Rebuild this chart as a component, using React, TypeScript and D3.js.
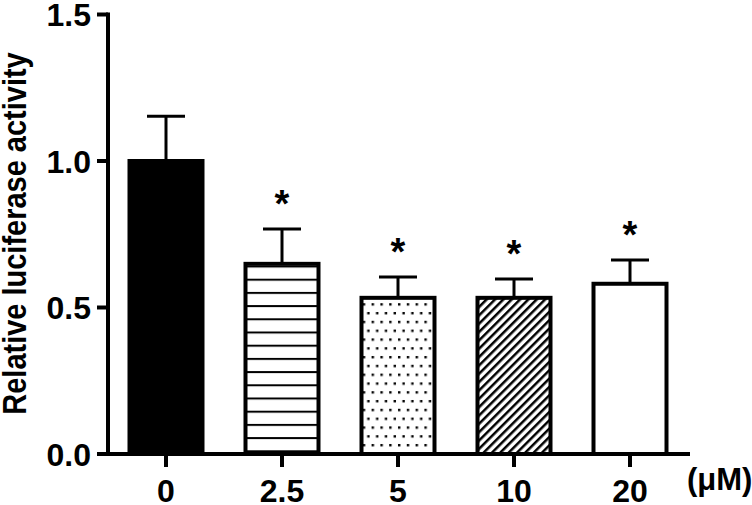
import * as d3 from "d3";
import { useEffect, useRef } from "react";

const categories = ["0", "2.5", "5", "10", "20"];
const means = [1.0, 0.649, 0.533, 0.533, 0.581];
const sds = [0.153, 0.119, 0.071, 0.064, 0.081];
const significant = [false, true, true, true, true];
const yTicks = [0, 0.5, 1.0, 1.5];
const yTickLabels = ["0.0", "0.5", "1.0", "1.5"];
const fills = ["#000", "url(#hlines)", "url(#dots)", "url(#diag)", "#fff"];

const FONT = "'Liberation Sans', Arial, Helvetica, sans-serif";

export default function App() {
  const ref = useRef<SVGSVGElement>(null);

  useEffect(() => {
    const width = 752;
    const height = 505;
    const svg = d3.select(ref.current);
    svg.selectAll("*").remove();
    svg.attr("width", width).attr("height", height);

    const x = d3.scaleBand().domain(categories).range([108, 688]).padding(0);
    const y = d3.scaleLinear().domain([0, 1.5]).range([454, 14.5]);
    const barW = 73;
    const capW = 38;

    // patterns
    const defs = svg.append("defs");
    const hl = defs.append("pattern").attr("id", "hlines").attr("patternUnits", "userSpaceOnUse")
      .attr("width", 10).attr("height", 13.2).attr("y", 1.5);
    hl.append("rect").attr("width", 10).attr("height", 13.2).attr("fill", "#fff");
    hl.append("rect").attr("y", 0).attr("width", 10).attr("height", 2).attr("fill", "#000");

    const dt = defs.append("pattern").attr("id", "dots").attr("patternUnits", "userSpaceOnUse")
      .attr("width", 8.8).attr("height", 17.6).attr("x", 1).attr("y", 3);
    dt.append("rect").attr("width", 8.8).attr("height", 17.6).attr("fill", "#fff");
    dt.append("rect").attr("x", 1).attr("y", 1).attr("width", 2.4).attr("height", 2.4).attr("fill", "#000");
    dt.append("rect").attr("x", 5.4).attr("y", 9.8).attr("width", 2.4).attr("height", 2.4).attr("fill", "#000");

    const dg = defs.append("pattern").attr("id", "diag").attr("patternUnits", "userSpaceOnUse")
      .attr("width", 5.9).attr("height", 10).attr("patternTransform", "rotate(45)");
    dg.append("rect").attr("width", 5.9).attr("height", 10).attr("fill", "#fff");
    dg.append("rect").attr("x", 0).attr("width", 2.5).attr("height", 10).attr("fill", "#000");

    const g = svg.append("g");

    // bars with error bars
    categories.forEach((c, i) => {
      const cx = x(c)! + x.bandwidth() / 2;
      const top = y(means[i]);
      const errTop = y(means[i] + sds[i]);
      g.append("line").attr("x1", cx).attr("x2", cx).attr("y1", top).attr("y2", errTop)
        .attr("stroke", "#000").attr("stroke-width", 3);
      g.append("line").attr("x1", cx - capW / 2).attr("x2", cx + capW / 2).attr("y1", errTop).attr("y2", errTop)
        .attr("stroke", "#000").attr("stroke-width", 3);
      g.append("rect").attr("x", cx - barW / 2).attr("y", top).attr("width", barW).attr("height", y(0) - top)
        .attr("fill", fills[i]).attr("stroke", "#000").attr("stroke-width", 4);
      if (significant[i]) {
        g.append("text").attr("x", cx).attr("y", errTop - 12).attr("text-anchor", "middle")
          .attr("font-family", FONT).attr("font-weight", "bold").attr("font-size", 38).text("*");
      }
    });

    // y axis
    g.append("line").attr("x1", 108).attr("x2", 108).attr("y1", y(1.5) - 2).attr("y2", y(0) + 2)
      .attr("stroke", "#000").attr("stroke-width", 4);
    yTicks.forEach((t, i) => {
      g.append("line").attr("x1", 97).attr("x2", 108).attr("y1", y(t)).attr("y2", y(t))
        .attr("stroke", "#000").attr("stroke-width", 4);
      g.append("text").attr("x", 91).attr("y", y(t) + 11.5).attr("text-anchor", "end")
        .attr("font-family", FONT).attr("font-weight", "bold").attr("font-size", 32).text(yTickLabels[i]);
    });

    // x axis
    g.append("line").attr("x1", 106).attr("x2", 690).attr("y1", y(0)).attr("y2", y(0))
      .attr("stroke", "#000").attr("stroke-width", 4);
    categories.forEach((c) => {
      const cx = x(c)! + x.bandwidth() / 2;
      g.append("line").attr("x1", cx).attr("x2", cx).attr("y1", y(0)).attr("y2", y(0) + 13)
        .attr("stroke", "#000").attr("stroke-width", 4);
      g.append("text").attr("x", cx).attr("y", 502).attr("text-anchor", "middle")
        .attr("font-family", FONT).attr("font-weight", "bold").attr("font-size", 32).text(c);
    });
    g.append("text").attr("x", 687).attr("y", 490)
      .attr("font-family", FONT).attr("font-weight", "bold").attr("font-size", 31).text("(μM)");

    // y label
    g.append("text").attr("transform", "translate(26,233.5) rotate(-90) scale(1,1.12)")
      .attr("text-anchor", "middle")
      .attr("font-family", FONT).attr("font-weight", "bold").attr("font-size", 29)
      .text("Relative luciferase activity");
  }, []);

  return (
    <div style={{ position: "absolute", left: 0, top: 0, background: "#fff" }}>
      <svg ref={ref}></svg>
    </div>
  );
}
